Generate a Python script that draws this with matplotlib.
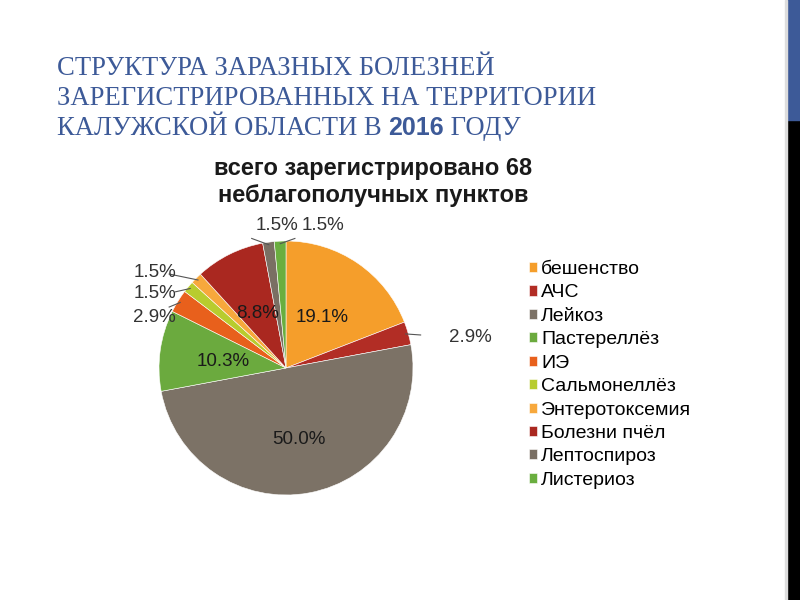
import matplotlib
matplotlib.use('Agg')
import numpy as np
import matplotlib.pyplot as plt
from matplotlib.patches import Rectangle

# Данные диаграммы
diseases = ['бешенство', 'АЧС', 'Лейкоз', 'Пастереллёз', 'ИЭ', 'Сальмонеллёз',
            'Энтеротоксемия', 'Болезни пчёл', 'Лептоспироз', 'Листериоз']
counts = [13, 2, 34, 7, 2, 1, 1, 6, 1, 1]
colors = ['#F59E2B', '#B22D25', '#7C7266', '#6BAA3E', '#E8601C', '#B8CC2E',
          '#F7A83C', '#AA2820', '#7A6F63', '#6AAE3F']

# какие подписи стоят внутри секторов
inside = [True, False, True, True, False, False, False, True, False, False]
# позиции внешних подписей (в координатах осей круга)
outside_pos = {1: (1.45, 0.24), 4: (-1.04, 0.40), 5: (-1.03, 0.59),
               6: (-1.03, 0.75), 8: (-0.07, 1.12), 9: (0.29, 1.12)}
line_start = {1: (1.06, 0.26), 4: (-0.92, 0.48), 5: (-0.87, 0.60),
              6: (-0.92, 0.74), 8: (-0.27, 1.02), 9: (0.07, 1.02)}

title_color = '#3D5A98'

fig = plt.figure(figsize=(8, 6), dpi=100)
fig.patch.set_facecolor('white')

# Полоса справа
fig.patches.append(Rectangle((787 / 800, 0), 13 / 800, 480 / 600,
                             transform=fig.transFigure, color='black'))
fig.patches.append(Rectangle((787 / 800, 480 / 600), 13 / 800, 120 / 600,
                             transform=fig.transFigure, color=title_color))
fig.patches.append(Rectangle((785 / 800, 0), 1.5 / 800, 1,
                             transform=fig.transFigure, color='#DDDDDD'))

# Заголовок слайда
font_serif = ['Liberation Serif', 'DejaVu Serif']
font_sans = ['Liberation Sans', 'DejaVu Sans']
fig.text(57 / 800, 1 - 75 / 600, 'СТРУКТУРА ЗАРАЗНЫХ БОЛЕЗНЕЙ',
         family=font_serif, fontsize=19.2, color=title_color, va='baseline')
fig.text(57 / 800, 1 - 105 / 600, 'ЗАРЕГИСТРИРОВАННЫХ НА ТЕРРИТОРИИ',
         family=font_serif, fontsize=19.2, color=title_color, va='baseline')
t3 = fig.text(57 / 800, 1 - 135 / 600, 'КАЛУЖСКОЙ ОБЛАСТИ В ',
              family=font_serif, fontsize=19.2, color=title_color, va='baseline')
renderer = fig.canvas.get_renderer()
bb = t3.get_window_extent(renderer)
t4 = fig.text(bb.x1 / 800, 1 - 135 / 600, '2016', family=font_sans,
              fontsize=18, fontweight='bold', color=title_color, va='baseline')
bb4 = t4.get_window_extent(renderer)
fig.text(bb4.x1 / 800, 1 - 135 / 600, ' ГОДУ',
         family=font_serif, fontsize=19.2, color=title_color, va='baseline')

# Заголовок диаграммы
fig.text(373 / 800, 1 - 182 / 600,
         'всего зарегистрировано 68\nнеблагополучных пунктов',
         family=font_sans, fontsize=17, fontweight='bold', color='#1A1A1A',
         ha='center', va='center', linespacing=1.2)

# Круговая диаграмма
cx, cy, r = 286, 368, 127
ax = fig.add_axes([(cx - r) / 800, (600 - cy - r) / 600, 2 * r / 800, 2 * r / 600])
wedges, _ = ax.pie(counts, colors=colors, startangle=90, counterclock=False,
                   radius=1, wedgeprops=dict(edgecolor='white', linewidth=0.4))
ax.set_xlim(-1, 1)
ax.set_ylim(-1, 1)
ax.axis('off')

total = sum(counts)
for i, (w, c) in enumerate(zip(wedges, counts)):
    label = f'{c / total * 100:.1f}%'
    mid = np.deg2rad((w.theta1 + w.theta2) / 2)
    if inside[i]:
        d = 0.5 if i != 2 else 0.56
        ax.text(d * np.cos(mid), d * np.sin(mid), label, ha='center',
                va='center_baseline', fontsize=13.5, family=font_sans,
                color='#1A1A1A')
    else:
        tx, ty = outside_pos[i]
        sx, sy = line_start[i]
        ex, ey = 0.98 * np.cos(mid), 0.98 * np.sin(mid)
        ax.plot([sx, ex], [sy, ey], color='#555555', lw=0.8, clip_on=False)
        ax.text(tx, ty, label, ha='center', va='center', fontsize=13.5,
                family=font_sans, color='#333333')

# Легенда
fig.legend(wedges, diseases, loc='upper left',
           bbox_to_anchor=(529 / 800, 1 - 261 / 600), frameon=False,
           prop={'family': font_sans, 'size': 14},
           handlelength=0.42, handleheight=0.42, handletextpad=0.2,
           labelspacing=0.33, borderpad=0, borderaxespad=0)

fig.savefig('out.png', dpi=100)
